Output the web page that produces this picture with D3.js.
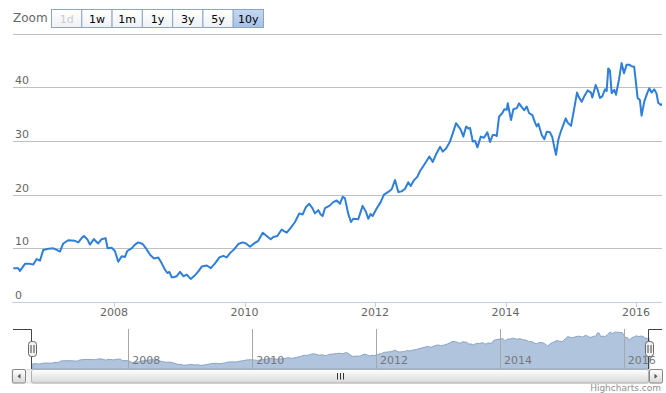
<!DOCTYPE html>
<html><head><meta charset="utf-8">
<script src="https://cdn.jsdelivr.net/npm/d3@7"></script>
<style>
body{margin:0;background:#fff}
svg{display:block}
text{font-family:"DejaVu Sans",Verdana,sans-serif}
</style>
</head><body>
<svg id="chart" width="666" height="393"></svg>
<script>
// ---- data (decimal years, values) ----
const years = [
2006.457,2006.533,2006.559,2006.636,2006.713,2006.763,2006.815,2006.866,2006.917,2006.993,
2007.070,2007.122,2007.172,2007.223,2007.300,2007.402,2007.453,2007.505,2007.540,2007.591,
2007.632,2007.693,2007.759,2007.811,2007.872,2007.903,2007.965,2008.015,2008.066,2008.118,
2008.169,2008.204,2008.271,2008.322,2008.372,2008.440,2008.490,2008.552,2008.613,2008.679,
2008.731,2008.782,2008.817,2008.848,2008.884,2008.909,2008.961,2009.011,2009.062,2009.114,
2009.175,2009.241,2009.292,2009.344,2009.421,2009.482,2009.548,2009.614,2009.675,2009.727,
2009.778,2009.839,2009.905,2009.972,2010.023,2010.084,2010.146,2010.211,2010.279,2010.340,
2010.402,2010.441,2010.503,2010.570,2010.605,2010.647,2010.708,2010.774,2010.840,2010.892,
2010.943,2010.993,2011.045,2011.080,2011.131,2011.168,2011.198,2011.234,2011.300,2011.361,
2011.413,2011.464,2011.505,2011.540,2011.591,2011.632,2011.667,2011.744,2011.811,2011.862,
2011.897,2011.934,2011.965,2012.026,2012.087,2012.138,2012.204,2012.256,2012.307,2012.357,
2012.409,2012.460,2012.510,2012.547,2012.598,2012.648,2012.690,2012.751,2012.792,2012.832,
2012.884,2012.935,2012.996,2013.037,2013.088,2013.149,2013.191,2013.241,2013.277,2013.313,
2013.353,2013.395,2013.430,2013.456,2013.497,2013.533,2013.568,2013.620,2013.670,2013.721,
2013.762,2013.804,2013.839,2013.865,2013.900,2013.951,2013.982,2014.018,2014.034,2014.069,
2014.084,2014.120,2014.172,2014.207,2014.248,2014.288,2014.325,2014.360,2014.411,2014.452,
2014.478,2014.503,2014.555,2014.595,2014.631,2014.682,2014.717,2014.748,2014.774,2014.809,
2014.846,2014.886,2014.923,2014.953,2015.004,2015.054,2015.096,2015.126,2015.167,2015.207,
2015.259,2015.310,2015.330,2015.382,2015.413,2015.448,2015.483,2015.525,2015.551,2015.575,
2015.601,2015.627,2015.667,2015.693,2015.739,2015.780,2015.816,2015.857,2015.897,2015.933,
2015.973,2016.025,2016.060,2016.086,2016.126,2016.172,2016.203,2016.239,2016.279,2016.315,
2016.340,2016.381,2016.407
];
const prices = [
6.3,6.3,5.8,7.1,7.1,7.0,8.0,7.7,9.7,9.9,
10.0,9.7,9.4,10.9,11.5,11.4,11.1,11.9,12.3,11.7,
10.7,11.7,10.9,11.7,11.9,10.0,10.1,9.5,7.5,8.5,
8.4,9.5,10.0,10.7,11.1,10.8,10.0,8.8,8.1,8.3,
7.2,6.0,5.4,5.6,4.6,4.6,4.8,5.6,4.8,5.1,
4.3,5.0,5.7,6.6,6.8,6.3,7.2,8.3,8.6,8.3,
9.1,9.8,10.8,11.1,10.9,10.3,10.9,11.4,12.9,12.3,
11.7,12.1,12.3,13.5,13.2,12.9,13.8,14.9,16.5,16.3,
17.7,18.3,17.4,16.5,17.1,16.3,16.0,17.5,17.9,18.6,
18.9,18.3,19.6,19.3,16.4,14.9,15.5,15.4,17.9,16.8,
15.5,16.4,16.0,17.4,18.6,20.0,20.5,21.0,22.7,20.5,
20.6,21.1,22.3,21.6,22.7,23.3,24.4,25.5,26.3,27.1,
26.1,27.5,28.9,28.0,28.6,29.9,31.4,33.3,32.7,32.1,
30.8,32.7,32.3,32.4,29.9,30.0,28.8,30.8,30.6,31.6,
29.8,31.1,31.1,30.9,34.5,35.2,35.9,35.8,37.0,34.8,
33.9,35.9,36.1,37.0,36.3,35.7,36.4,35.2,34.8,33.4,
32.7,33.2,31.1,30.3,31.7,31.6,30.7,28.8,27.4,30.2,
31.7,33.0,34.2,33.4,32.8,36.1,39.0,38.1,37.3,38.3,
39.4,39.0,38.1,40.4,39.5,38.0,38.3,39.6,39.3,43.5,
43.1,38.9,39.5,38.6,41.4,44.5,42.6,44.2,44.2,43.9,
43.8,38.0,37.6,34.7,37.3,38.9,39.8,39.0,39.6,38.8,
37.1,36.7,36.9
];
const visibleRange = [2006.437, 2016.398];
const yTicks = [0, 10, 20, 30, 40, 50];
const xTickYears = [2008, 2010, 2012, 2014, 2016];
const zoomButtons = ["1d", "1w", "1m", "1y", "3y", "5y", "10y"];
const selectedButton = "10y";
const disabledButtons = ["1d"];

// ---- helpers ----
function toDate(y) {
  const Y = Math.floor(y);
  const a = new Date(Y, 0, 1), b = new Date(Y + 1, 0, 1);
  return new Date(+a + (y - Y) * (b - a));
}
const data = years.map((yr, i) => ({ date: toDate(yr), v: prices[i] }));

const svg = d3.select("#chart");
const defs = svg.append("defs");

// ---- main chart ----
const plotL = 12, plotR = 662, plotT = 33.5, plotB = 302;
const x = d3.scaleTime().domain(visibleRange.map(toDate)).range([plotL, plotR]);
const y = d3.scaleLinear().domain([0, 50]).range([plotB, plotT]);

// gridlines
svg.append("g").selectAll("line").data(yTicks.filter(t => t > 0)).join("line")
  .attr("x1", plotL + 1).attr("x2", plotR)
  .attr("y1", d => Math.round(y(d)) + 0.5).attr("y2", d => Math.round(y(d)) + 0.5)
  .attr("stroke", "#c0c0c0").attr("stroke-width", 1);

// y labels (last hidden)
svg.append("g").selectAll("text").data(yTicks.slice(0, -1)).join("text")
  .attr("x", 15).attr("y", d => y(d) - 3)
  .attr("font-size", 11).attr("fill", "#666").text(d => d);

// x axis line
svg.append("line").attr("x1", plotL).attr("x2", plotR)
  .attr("y1", plotB + 0.5).attr("y2", plotB + 0.5).attr("stroke", "#c0d0e0");
const xTicks = xTickYears.map(yr => new Date(yr, 0, 1));
svg.append("g").selectAll("line").data(xTicks).join("line")
  .attr("x1", d => Math.round(x(d)) + 0.5).attr("x2", d => Math.round(x(d)) + 0.5)
  .attr("y1", plotB).attr("y2", plotB + 5).attr("stroke", "#c0d0e0");
svg.append("g").selectAll("text").data(xTicks).join("text")
  .attr("x", d => x(d)).attr("y", 316).attr("text-anchor", "middle")
  .attr("font-size", 11).attr("fill", "#666").text(d => d3.timeFormat("%Y")(d));

// series line
defs.append("clipPath").attr("id", "plotClip").append("rect")
  .attr("x", plotL).attr("y", plotT - 5).attr("width", plotR - plotL).attr("height", plotB - plotT + 5);
svg.append("path").datum(data)
  .attr("clip-path", "url(#plotClip)")
  .attr("fill", "none").attr("stroke", "#2f7ed8").attr("stroke-width", 2)
  .attr("stroke-linejoin", "round")
  .attr("d", d3.line().x(d => x(d.date)).y(d => y(d.v)));

// ---- range selector ----
svg.append("text").attr("x", 13).attr("y", 22).attr("font-size", 12).attr("fill", "#666").text("Zoom");
const bx = d3.scaleBand().domain(zoomButtons).range([51.5, 263.5]);
const gNorm = defs.append("linearGradient").attr("id", "btnG").attr("x1", 0).attr("x2", 0).attr("y1", 0).attr("y2", 1);
gNorm.append("stop").attr("offset", 0).attr("stop-color", "#ffffff");
gNorm.append("stop").attr("offset", 1).attr("stop-color", "#eef2f6");
const gSel = defs.append("linearGradient").attr("id", "btnS").attr("x1", 0).attr("x2", 0).attr("y1", 0).attr("y2", 1);
gSel.append("stop").attr("offset", 0).attr("stop-color", "#c4d8f2");
gSel.append("stop").attr("offset", 1).attr("stop-color", "#a6c2e8");
const btn = svg.append("g").selectAll("g").data(zoomButtons).join("g");
btn.append("rect")
  .attr("x", d => bx(d)).attr("y", 9.5).attr("width", bx.bandwidth()).attr("height", 18)
  .attr("fill", d => d === selectedButton ? "url(#btnS)" : "url(#btnG)")
  .attr("stroke", "#8ea5c0").attr("stroke-width", 1);
btn.append("text")
  .attr("x", d => bx(d) + bx.bandwidth() / 2).attr("y", 23)
  .attr("text-anchor", "middle").attr("font-size", 11)
  .attr("fill", d => disabledButtons.includes(d) ? "#cccccc" : "#000")
  .text(d => d);

// ---- navigator ----
const navL = 31.5, navR = 648.5, navT = 329, navB = 369;
const xn = d3.scaleTime().domain(visibleRange.map(toDate)).range([navL, navR]);
const yn = d3.scaleLinear().domain([0, 48]).range([navB, navT]);

svg.append("path").datum(data)
  .attr("fill", "#b0c4de").attr("stroke", "#8aa4c8").attr("stroke-width", 1)
  .attr("d", d3.area().x(d => xn(d.date)).y0(navB).y1(d => yn(d.v)));

svg.append("g").selectAll("line").data(xTicks).join("line")
  .attr("x1", d => Math.round(xn(d)) + 0.5).attr("x2", d => Math.round(xn(d)) + 0.5)
  .attr("y1", navT).attr("y2", navB).attr("stroke", "#a8a8a8");
svg.append("g").selectAll("text").data(xTicks).join("text")
  .attr("x", d => xn(d) + 4).attr("y", 364)
  .attr("font-size", 11).attr("fill", "#777").text(d => d3.timeFormat("%Y")(d));

// outline
svg.append("path")
  .attr("d", `M${plotL + 1},${navT + 0.5}H${navL}V${navB + 0.5}H${navR}V${navT + 0.5}H${plotR}`)
  .attr("fill", "none").attr("stroke", "#444").attr("stroke-width", 1);

// ---- scrollbar ----
const sbT = 369.5, sbH = 13.5;
svg.append("rect").attr("x", plotL).attr("y", sbT).attr("width", plotR - plotL).attr("height", sbH)
  .attr("fill", "#f2f2f2").attr("stroke", "#e0e0e0");
const gTh = defs.append("linearGradient").attr("id", "thumbG").attr("x1", 0).attr("x2", 0).attr("y1", 0).attr("y2", 1);
gTh.append("stop").attr("offset", 0).attr("stop-color", "#ffffff");
gTh.append("stop").attr("offset", 1).attr("stop-color", "#d8d8d8");
svg.append("rect").attr("x", navL).attr("y", sbT).attr("width", navR - navL).attr("height", sbH)
  .attr("rx", 2).attr("fill", "url(#thumbG)").attr("stroke", "#b0b0b0");
const mid = (navL + navR) / 2;
svg.append("g").selectAll("line").data([-3, 0, 3]).join("line")
  .attr("x1", d => Math.round(mid) + d + 0.5).attr("x2", d => Math.round(mid) + d + 0.5)
  .attr("y1", sbT + 3.5).attr("y2", sbT + 10).attr("stroke", "#333");
// buttons
[[plotL + 0.5, -1], [plotR - 12.5, 1]].forEach(([bxp, dir]) => {
  svg.append("rect").attr("x", bxp).attr("y", sbT).attr("width", 13).attr("height", sbH)
    .attr("rx", 1.5).attr("fill", "url(#thumbG)").attr("stroke", "#888");
  const cx = bxp + 6.5, cy = sbT + sbH / 2;
  svg.append("path")
    .attr("d", dir < 0 ? `M${cx + 1.5},${cy - 2.5}L${cx - 1.5},${cy}L${cx + 1.5},${cy + 2.5}Z`
                        : `M${cx - 1.5},${cy - 2.5}L${cx + 1.5},${cy}L${cx - 1.5},${cy + 2.5}Z`)
    .attr("fill", "#555");
});

// handles
[navL, navR].forEach(cx => {
  const hx = Math.round(cx);
  svg.append("rect").attr("x", hx - 4 + 0.5).attr("y", 341.5).attr("width", 8).attr("height", 15)
    .attr("rx", 3).attr("fill", "#f2f2f2").attr("stroke", "#666");
  [-1.5, 1.5].forEach(o => svg.append("line")
    .attr("x1", hx + 0.5 + o).attr("x2", hx + 0.5 + o).attr("y1", 345).attr("y2", 353)
    .attr("stroke", "#444"));
});

// credit
svg.append("text").attr("x", 661).attr("y", 391).attr("text-anchor", "end")
  .attr("font-size", 9).attr("fill", "#909090").text("Highcharts.com");
</script>
</body></html>
